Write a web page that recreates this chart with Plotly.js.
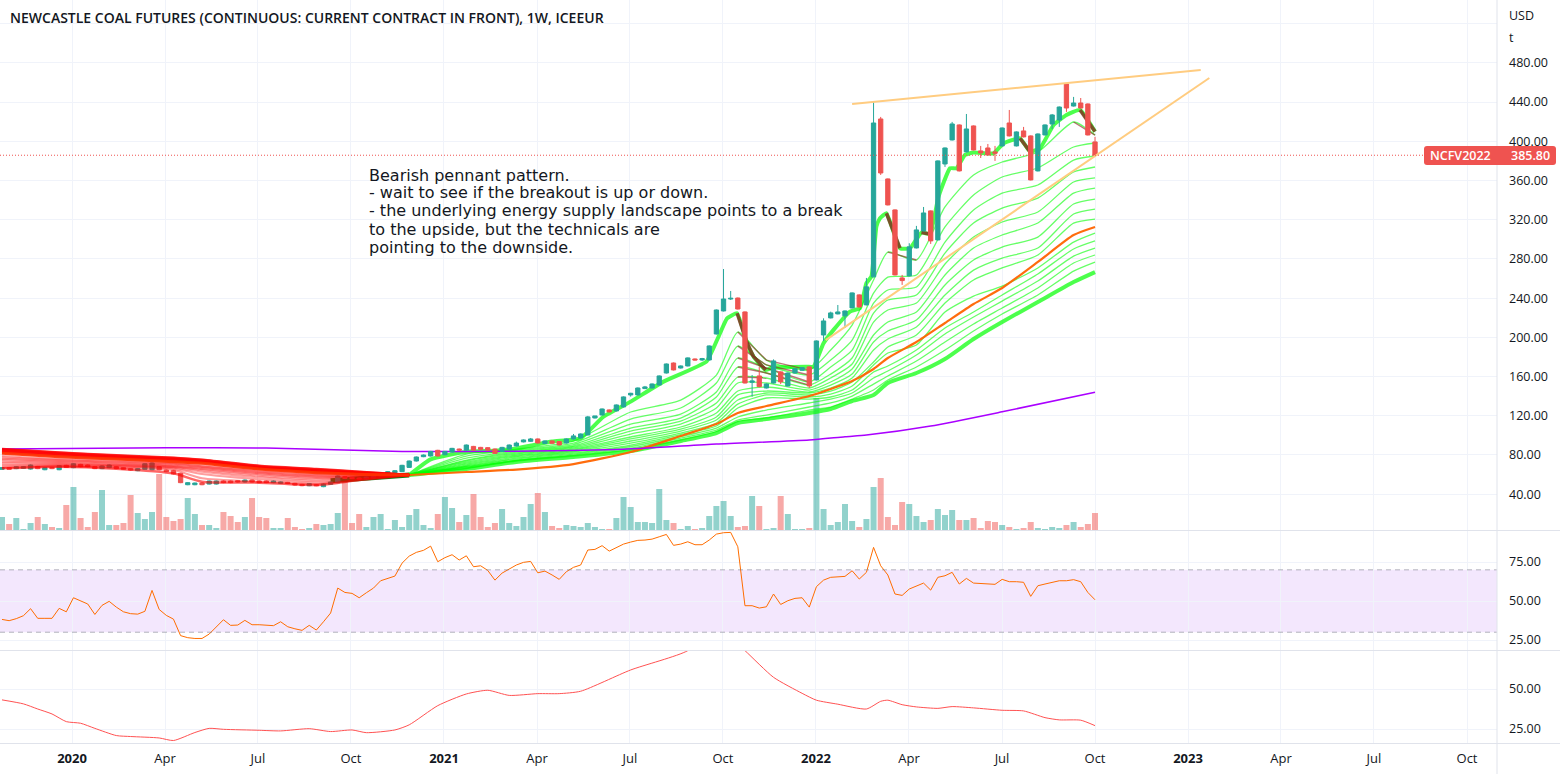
<!DOCTYPE html>
<html><head><meta charset="utf-8">
<script src="https://cdn.plot.ly/plotly-3.0.1.min.js"></script>
<style>html,body{margin:0;padding:0;background:#fff}#c{width:1560px;height:774px}</style>
</head><body><div id="c"></div>
<script>
const titleText = "NEWCASTLE COAL FUTURES (CONTINUOUS: CURRENT CONTRACT IN FRONT), 1W, ICEEUR";
const noteLines = ["Bearish pennant pattern.","- wait to see if the breakout is up or down.","- the underlying energy supply landscape points to a break","to the upside, but the technicals are","pointing to the downside."];
const lastPrice = 385.8;
const xTickVals = [9.8,22.82,35.83,48.85,61.87,74.89,87.9,100.92,113.94,126.96,139.98,153,166.02,179.03,192.05,205.07];
const xTickText = ["<b>2020</b>","Apr","Jul","Oct","<b>2021</b>","Apr","Jul","Oct","<b>2022</b>","Apr","Jul","Oct","<b>2023</b>","Apr","Jul","Oct"];
const priceTicks = [40,80,120,160,200,240,280,320,360,400,440,480,520];
const priceTickText = ["40.00","80.00","120.00","160.00","200.00","240.00","280.00","320.00","360.00","400.00","440.00","480.00",""];

const opens = [
65.3,67,66,66.3,65.6,68.3,64.9,67.3,64.9,69.4,
67,70.4,69.7,68,66,67,68,67,66,63.9,
65.3,64.9,68,64.6,63.9,61.2,49.6,49.6,51.3,50.3,
50.3,53.4,53.4,53.7,52.4,54.4,53.4,53.4,51.7,51,
52,51,50,48.6,49.6,47.6,50,51.7,57.8,57.1,
56.4,55.4,56.4,58.5,61.2,61.9,62.9,67.3,73.8,78.2,
78.9,84.7,80.2,83,86,85,88.7,87.7,87.4,86,
83.6,86,89.1,93.3,93.9,96.3,91.6,94.3,93.6,92.2,
96.3,97.3,100.4,117.7,120.8,125.9,124.9,129,141.2,141.2,
147.7,148.3,151.4,163.6,173.8,168.7,170.8,177.9,176.9,176.9,
203.4,226.9,239.1,240.1,225.9,154.1,160.6,148.3,153.4,164.7,
150.4,163.6,166.4,169.8,156.5,202.4,219.8,223.9,221.9,230,
243.3,233.1,261.7,422.8,361.6,330,260.6,262.7,291.2,308.6,
329,299.4,376.9,401.4,416.7,389.2,415.7,390.2,393.2,389.2,
395.3,418.7,395.3,410.6,405.5,369.8,406.5,417.7,421.8,458.5,
436,439.1,438.1,399.4];
const closes = [
67,65.3,68,68,69.7,66,67,66,69,67.3,
71,68,68,66,68.7,69.7,66,65.3,64.6,66,
71,71.7,64.9,62.9,60.5,51.7,51.7,51.3,49.6,53.4,
53.4,51.7,51.7,52.4,54.4,52.4,51.7,51.7,53.4,52.4,
50.7,49.3,48.6,50.7,48.6,50.3,52.4,58.5,56.1,55.8,
55.4,57.5,59.5,61.2,62.9,63.9,69.4,73.8,77.9,79.9,
83.6,78.9,83.6,86.7,85,90.1,85,85.7,85,81.6,
87.7,90.1,92.1,95.3,96.3,92.2,94.3,91.9,90.2,96.3,
99.4,101.4,118.8,119.8,126.9,123.9,131,139.2,142.9,148.3,
149.4,152.4,160.6,172.8,166.7,170.8,179,176.9,178.3,191.2,
227.9,239.1,239.8,228.9,153.4,155.5,149.7,152.4,175.9,154.5,
163.6,168,169.1,150.4,196.3,216.7,224.9,225.9,226.9,245.3,
231,251.5,418.7,367.7,335.1,263.7,257.9,292.3,309.6,326.9,
298.4,380,393.2,417.7,369.8,412.6,391.2,388.1,386.1,387.8,
413.6,405.5,409.6,404.5,360.6,407.5,416.7,426.9,435,434,
439.1,434,406.5,385.8];
const highs = [
67.5,67.5,68.5,68.5,70.2,68.8,67.5,67.8,69.5,69.9,
71.5,70.9,70.2,68.5,69.2,70.2,68.5,67.5,66.5,66.5,
71.5,72.2,68.5,65.1,64.4,61.7,52.2,51.8,51.8,53.9,
53.9,53.9,53.9,54.2,54.9,54.9,53.9,53.9,53.9,52.9,
52.5,51.5,50.5,51.2,50.1,50.8,52.9,59,58.3,57.6,
56.9,58,60,61.7,63.4,64.4,69.9,74.3,78.4,80.4,
84.1,85.2,84.1,87.2,86.5,90.6,89.2,88.2,87.9,86.5,
88.2,90.6,93.6,95.8,97.3,96.8,94.8,94.8,94.1,96.8,
101.4,101.9,119.8,119.8,127.4,126.4,131.5,139.7,143.4,148.8,
150.4,152.9,161.1,173.3,174.3,171.3,179.5,178.4,179,191.7,
228.4,269.7,247.3,240.6,226.4,161.6,170,152.9,177.5,165.2,
164.1,168.5,169.6,170.3,196.8,219.4,226.2,233,227.4,245.8,
243.8,260.6,440.2,424.9,362.1,330.5,263.7,296,313.7,333,
329.5,380.5,393.7,419.8,417.2,427.9,416.2,395.3,397.3,395.3,
414.1,432,410.1,414.7,406,408,417.2,427.9,435.5,459,
445.3,444.2,438.6,404.5];
const lows = [
64.8,64.8,65.5,65.8,65.1,65.5,64.4,65.5,64.4,66.8,
66.5,67.5,67.5,65.5,65.5,66.5,65.5,64.8,64.1,63.4,
64.8,64.4,64.4,62.4,60,51.2,49.1,49.1,49.1,49.8,
49.8,51.2,51.2,51.9,51.9,51.9,51.2,51.2,51.2,50.5,
50.2,48.8,48.1,48.1,48.1,47.1,49.5,51.2,55.6,55.3,
54.9,54.9,55.9,58,60.7,61.4,62.4,66.8,73.3,77.7,
78.4,78.4,79.7,82.5,84.5,84.5,84.5,85.2,84.5,81.1,
83.1,85.5,88.6,92.8,93.4,91.7,91.1,91.4,89.7,91.7,
95.8,96.8,99.9,117.2,120.3,123.4,124.4,128.5,139.5,140.7,
147.2,147.8,150.9,163.1,166.2,168.2,170.3,176.4,175.9,176.4,
202.9,226.4,238.1,228.4,153,139.5,149,147.8,152.9,152.4,
149.9,163.1,165.9,148.3,156,196.3,219.3,223.4,209.5,229.5,
230.5,232.6,261.2,365.7,334.6,263.2,253.5,262.2,290.7,308.1,
295.3,298.9,373.9,400.9,369.3,388.7,390.7,383,385.6,380,
394.8,405,394.8,404,360.1,369.3,406,412.6,414.7,430,
435.5,433.5,406,385.3];

const volume = [
13,6,12,1,7,13,6,3,2,25,
43,12,3,18,40,5,5,7,35,17,
11,18,56,13,9,11,32,16,5,5,
2,18,14,8,13,32,13,12,2,2,
12,3,1,2,6,5,6,17,50,7,
16,3,13,16,1,10,3,15,21,5,
2,16,33,22,8,15,36,13,3,7,
21,7,4,13,26,37,18,4,2,5,
4,3,7,3,1,1,12,33,23,8,
8,7,41,10,7,1,4,1,2,14,
24,29,14,3,4,34,24,1,2,34,
16,1,1,2,132,21,5,8,26,9,
3,11,43,52,13,5,28,26,14,8,
10,21,15,20,10,10,12,2,9,8,
5,3,1,2,8,2,1,3,2,5,
8,3,6,17];
const volumeUp = [
1,0,1,1,1,0,1,0,1,0,
1,0,0,0,1,1,0,0,0,1,
1,1,0,0,0,0,1,1,0,1,
1,0,0,0,1,0,0,0,1,1,
0,0,0,1,0,1,1,1,0,0,
0,1,1,1,1,1,1,1,1,1,
1,0,1,1,0,1,0,0,0,0,
1,1,1,1,1,0,1,0,0,1,
1,1,1,1,1,0,1,1,1,1,
1,1,1,1,0,1,1,0,1,1,
1,1,1,0,0,1,0,1,1,0,
1,1,1,0,1,1,1,1,1,1,
0,1,1,0,0,0,0,1,1,1,
0,1,1,1,0,1,0,0,0,0,
1,0,1,0,0,1,1,1,1,0,
1,0,0,0];

const rsi = [
38.2,37.4,38.7,40.6,45.1,38.9,38.9,38.9,45.3,43.1,
52.1,50.2,48.1,41.4,47.2,49.8,46.1,43.1,41.9,41.6,
43.4,56.8,44.6,40.8,38.4,27.8,26.5,26,26,28.8,
33.7,38,34.4,34.6,37.6,34.8,34.8,34.6,34.2,36.7,
33.5,32.2,31.2,34.4,31.4,36.7,42.3,58.3,55.5,54.9,
52.1,55.3,58.3,63,64.3,66,74.3,78.8,81.2,82.5,
85.2,75.2,77.8,79.7,76.3,79,72,72.6,69.6,63.4,
67.9,70.5,73.1,74.8,75.4,68.1,69.2,66.7,63.9,68.8,
71.6,73.1,82.7,83.1,85.5,82,84.4,86.5,87.8,88.9,
89.1,89.7,91.2,92.7,85.7,86.5,88,86.1,86.1,89.1,
92.9,93.8,94,84.8,47,47,45.5,46.3,54.5,47.8,
50.2,51.7,52.1,46.1,59.2,63.4,65.2,65.4,65.8,69.4,
64.1,68.4,84.4,72.6,66.7,54.5,53.6,57.7,59.6,61.5,
57,65.2,66.2,68.4,60.9,64.5,61.5,61.1,60.7,60.7,
63.9,62.4,62.4,62,53,59.8,60.9,62,63,63,
63.7,62.4,55.5,50.8];

const lowerBars = [0,3,5,7,9,11,13,16,18,22,24,27,29,31,36,39,43,46,49,51,55,57,61,65,68,71,75,78,81,88,96,100,104,108,112,114,117,121,123,124,126,128,131,133,136,140,143,146,148,151,153];
const lowerVals = [43.2,40.7,37.5,34.4,29.6,28.6,25.4,20.9,20.3,19.4,17.8,22.8,25.4,24.8,24.2,23.8,25.2,23.4,24.4,22.7,24.4,27.6,39.6,46.9,49.2,46,47.1,47.1,48.6,61.9,74,90,74,57.3,47.3,43,40.5,37.5,42.3,43,40.2,38.8,37.9,39,38.2,36.7,36.3,32.1,30.7,30.5,27.1];

const purpleBars = [0,23,37,56,72,87,100,113,118,121,130,140,153];
const purpleVals = [86,87.3,87,83.6,83.8,85.7,91.1,95.2,98.6,100.3,109.5,124,144];

// Guppy-style ribbon while rising (green phase)
const ribbonBars = [57,65,72,80,88,95,100,103,107,113,116,119,122,124,128,132,136,140,145,150,153];
const t1 = [59.5,80.9,86,94.2,123.8,136,161.5,205.4,176.8,166.6,187,212.5,258.5,287,278.9,333,365.6,378.9,389.1,419.7,406.4];
const t2 = [59.5,78.9,85,92.1,116.6,127.9,153.4,191.1,171.8,161.6,176.9,197.2,245.2,261.5,263.6,312.6,345.2,363.6,372.8,394.2,398.3];
const t3 = [59.5,76.8,84,90.6,111.5,121.7,144.2,178.9,168.7,154.4,169.7,187,235,248.3,251.3,297.2,329.9,347.2,355.4,380.9,385];
const t4 = [59.5,74.8,83,89.1,107.4,117.6,139.1,169.7,163.6,151.3,162.5,178.9,224.8,238.1,243.2,286,316.6,331.9,342.1,368.7,373.8];
const t5 = [59.5,73.8,81.9,88.1,104.4,114.6,133,159.5,158.5,148.3,158.5,172.8,215.6,227.9,235,274.8,302.3,317.7,327.9,358.5,362.6];
const t6 = [59.5,72.7,80.9,87,101.3,111.5,127.9,153.4,153.4,146.2,154.4,167.7,202.4,215.6,225.8,263.6,291.1,304.4,316.6,347.2,352.3];
const t7 = [59.5,71.7,79.9,86,98.3,108.5,122.8,145.2,149.3,144.2,151.3,162.5,195.2,206.4,217.7,253.4,278.9,292.1,302.3,336,341.1];
const t8 = [59.5,70.7,78.9,85,96.3,106.4,118.7,141.2,145.2,143.2,148.3,158.4,187,198.3,210.6,243.2,268.6,280.9,291.1,325.8,330.9];
const t9 = [59.5,69.7,77.9,84,94.2,104.4,115.7,136,143.2,141.2,145.2,154.4,174.8,190.1,202.4,235,258.5,270.8,284,316.6,320.7];
const t10 = [59.5,68.7,76.8,83,92.1,102.3,112.6,131.9,141.2,139.1,142.1,150.3,171.7,184,192.2,225.8,242.1,252.3,270.8,297.2,306.4];
const t11 = [59.5,68.2,75.8,81.9,90.1,100.8,109.5,127.9,138.1,137,139.1,146.2,164.6,170.7,187,209.5,225.8,243.2,264.6,290.1,298.3];
const t12 = [59.5,67.7,74.8,80.9,88.6,98.8,107.4,118.7,125.8,133,137,143.2,158.5,165.6,181.9,203.4,220.7,237,257.4,282.9,291.1];
const t13 = [59.5,66.6,74.3,79.9,87,97.2,105.4,115.6,120.7,128.9,133,140.1,152.3,160.5,175.8,195.2,213.6,229.9,250.3,275.8,284];
const t14 = [59.5,66.1,73.8,78.9,85.5,95.2,103.9,114.1,117.7,125.8,128.9,137,146.2,156.4,169.7,187,206.4,223.8,243.2,267.6,276.8];
const ribbonBottom = [59.5,65.6,72.8,77.9,84,94.2,102.3,112.6,116.6,122.8,126.9,135,141.1,153.4,163.6,177.9,198.3,215.7,236,256.4,266.6];
const orangeMA = [59.5,62.6,65.1,70.7,83,99.3,111.5,122.8,129.9,140.1,147.3,155.4,167.7,178.9,195.2,214.6,234,250.3,276.9,304.4,312.6];

const topBars = [57,60,65,69,72,77,81,84.2,88,92.6,98.6,100.1,101.5,102.9,104.3,105.2,106.9,108,112.7,113.6,115,116.4,118.7,120.1,121,121.7,122.4,122.9,123.8,125.7,127.1,128.7,129.9,131.1,132.7,133.6,134.8,136,138.8,140.2,142.5,143.9,145.3,147.2,149,150.9,153];
const topVals = [59.5,75.5,83.3,84.3,86.7,93.6,97,119,134.4,154.8,175.2,197.3,219.4,224.5,193.9,180.3,166.7,169.4,170.1,170.1,193.9,207.6,226.3,229.7,255.2,262,313,321.5,326.6,290.9,290.9,306.9,305.5,343.6,372.5,372.5,386.1,388.5,387.8,398,403.1,389.5,392.9,416.7,426.9,432,409.9];

// falling stretches of the ribbon, drawn dark red over the green
const fallThickBars = [102.9,104.3,105.2,106.9,null,123.8,125.7,null,128.7,129.9,null,142.5,143.9,null,150.9,153];
const fallThickVals = [224.5,193.9,180.3,166.7,null,326.6,290.9,null,306.9,305.5,null,403.1,389.5,null,432,409.9];
const fallThinBars = [103,107,113,null,103,107,113,null,103,107,113,null,103,107,113,null,103,107,null,124,128,null,150,153];
const fallThinVals = [205.4,176.8,166.6,null,191.1,171.8,161.6,null,178.9,168.7,154.4,null,169.7,163.6,151.3,null,159.5,158.5,null,287,278.9,null,419.7,406.4];

// same ribbon while falling (red phase)
const redBars = [0,8,16,24,28,36,44,50,57];
const r0 = [66.3,68,66,61.2,52.7,51.7,49.3,54.4,59.5];
const r1 = [67,68.3,67,64.6,56.1,52.7,50.3,54.4,59.5];
const r2 = [68,69,68,66,60.5,55.1,51.7,55.1,59.5];
const r3 = [69.7,69.7,68.7,67,62.9,57.1,53.4,55.8,59.5];
const r4 = [71.4,70.7,69.4,67.7,64.6,58.8,55.1,56.4,59.5];
const r5 = [73.1,71.7,70,68.3,65.6,60.2,56.4,57.1,59.5];
const r6 = [74.8,72.8,71,69,66.6,61.2,57.5,57.8,59.5];
const r7 = [76.2,73.8,72.1,70,67.7,62.2,58.5,58.5,59.5];
const r8 = [77.5,74.8,73.1,71,68.3,63.2,59.5,58.8,59.5];
const r9 = [78.9,75.8,74.1,71.7,69.4,64.3,60.5,59.5,59.5];
const r10 = [81.6,78.2,75.8,73.1,71.4,65.6,61.9,60.2,59.5];
const r11 = [82.6,79.2,76.5,74.1,72.4,66.3,62.9,60.9,59.5];
const r12 = [83.3,79.9,77.2,74.8,72.8,66.6,63.2,61.2,59.5];
const r13 = [84,80.6,77.9,75.5,73.4,67.3,63.9,61.5,59.5];
const r14 = [84.7,81.3,78.2,75.8,73.8,67.7,64.3,61.9,59.5];
const r15 = [85.3,81.9,78.9,76.5,74.5,68.3,64.9,62.2,59.5];
const r16 = [86,82.6,79.6,77.2,75.1,69,65.6,62.9,59.5];
const darkGreenBars = [46,50,57];
const darkGreenVals = [53.7,55.8,59.5];

const pennantTopBars = [119,167.8];
const pennantTopVals = [438,472.8];
const pennantLowBars = [115.3,169];
const pennantLowVals = [197.2,464.6];

const bars = opens.map((_, i) => i);
const TEAL = "#26a69a", RED = "#ef5350";
const line = (x, y, yaxis, color, width, smooth) => ({
  type: "scatter", mode: "lines", x, y, xaxis: "x", yaxis,
  line: smooth ? {color, width, shape: "spline", smoothing: smooth} : {color, width, shape: "linear"},
  hoverinfo: "skip", showlegend: false
});

const traces = [];
traces.push({type: "bar", x: bars, y: volume, xaxis: "x", yaxis: "y",
  marker: {color: volumeUp.map(u => u ? "rgba(38,166,154,0.5)" : "rgba(239,83,80,0.5)"), line: {width: 0}},
  hoverinfo: "skip", showlegend: false});

// ribbon (under the candles)
[t14,t13,t12,t11,t10,t9,t8,t7,t6,t5,t4,t3,t2,t1].forEach(s =>
  traces.push(line(ribbonBars, s, "y4", "rgba(0,255,0,0.6)", 1.3, 0.6)));
traces.push(line(darkGreenBars, darkGreenVals, "y4", "rgba(0,110,0,0.9)", 5));
traces.push(line(ribbonBars, ribbonBottom, "y4", "rgba(0,255,0,0.7)", 4, 0.6));
traces.push(line(topBars, topVals, "y4", "rgba(0,255,0,0.7)", 4, 0.4));
traces.push(line(ribbonBars, orangeMA, "y4", "rgba(255,100,0,0.95)", 2.2, 0.6));
traces.push(line(purpleBars, purpleVals, "y4", "#aa00ff", 1.5, 0.6));
traces.push(line(fallThinBars, fallThinVals, "y4", "rgba(140,30,30,0.6)", 1.4));
traces.push(line(fallThickBars, fallThickVals, "y4", "rgba(130,40,30,0.8)", 3.5));

traces.push({type: "candlestick", x: bars, open: opens, high: highs, low: lows, close: closes,
  xaxis: "x", yaxis: "y5", whiskerwidth: 0,
  increasing: {line: {color: TEAL, width: 1}, fillcolor: TEAL},
  decreasing: {line: {color: RED, width: 1}, fillcolor: RED},
  hoverinfo: "skip", showlegend: false});

// red phase over the candles
[r1,r2,r3,r4,r5,r6,r7,r8,r9].forEach(s =>
  traces.push(line(redBars, s, "y6", "rgba(255,0,0,0.38)", 2, 0.6)));
[r11,r12,r13,r14,r15].forEach(s =>
  traces.push(line(redBars, s, "y6", "rgba(255,0,0,0.55)", 3, 0.6)));
traces.push(line(redBars, r0, "y6", "rgba(255,0,0,0.6)", 2.5, 0.6));
traces.push(line(redBars, r16, "y6", "rgba(255,0,0,0.8)", 2.5, 0.6));
traces.push(line(redBars, r10, "y6", "rgba(255,50,0,0.9)", 3, 0.6));

traces.push(line(pennantTopBars, pennantTopVals, "y6", "#ffcc80", 2));
traces.push(line(pennantLowBars, pennantLowVals, "y6", "#ffcc80", 2));

traces.push(line(bars, rsi, "y2", "#ff6d00", 1));
traces.push(line(lowerBars, lowerVals, "y3", "#ff5252", 1, 0.6));

const W = 1560, H = 774, AX = 1497, GRID = "#f0f3fa", BORDER = "#e0e3eb", TXT = "#131722";
const FONT = '"Open Sans", sans-serif';
const py = p => 1 - p / H, px = p => p / W;
const priceRange = [3.4, 544.2];

const hiddenY = {overlaying: "y", domain: [py(530), 1], range: priceRange, visible: false, fixedrange: true, anchor: "x"};
const rightY = {side: "right", anchor: "x", ticks: "", showline: false, zeroline: false,
  gridcolor: GRID, gridwidth: 1, tickfont: {family: FONT, size: 12.5, color: TXT}, ticklabelstandoff: 11, fixedrange: true};

const noteY = [175, 192, 211, 229, 247];
const noteAnn = noteLines.map((text, i) => ({xref: "paper", yref: "paper", x: px(366.5), y: py(noteY[i]), xanchor: "left", yanchor: "middle",
  align: "left", showarrow: false, text, font: {family: '"DejaVu Sans", sans-serif', size: 16, color: TXT}}));

const layout = {
  width: W, height: H, margin: {l: 0, r: 0, t: 0, b: 0}, paper_bgcolor: "#fff", plot_bgcolor: "#fff",
  showlegend: false, bargap: 0.16, boxgap: 0.2, boxgroupgap: 0.25, dragmode: false, hovermode: false,
  font: {family: FONT, color: TXT},
  title: {text: titleText, x: px(10), xanchor: "left", y: py(18), yanchor: "middle", xref: "paper", yref: "paper",
    font: {family: FONT, size: 14, weight: 600, color: TXT}},
  xaxis: {domain: [0, AX / W], range: [-0.28, 209.27], anchor: "y3", type: "linear",
    tickmode: "array", tickvals: xTickVals, ticktext: xTickText, ticks: "", showline: false, zeroline: false,
    gridcolor: GRID, tickfont: {family: FONT, size: 13, color: TXT}, ticklabelstandoff: 6,
    rangeslider: {visible: false}, fixedrange: true},
  yaxis: {domain: [py(530), 1], range: [0, 530], visible: false, showgrid: false, fixedrange: true, anchor: "x"},
  yaxis4: Object.assign({}, rightY, {overlaying: "y", domain: [py(530), 1], range: priceRange,
    tickmode: "array", tickvals: priceTicks, ticktext: priceTickText}),
  yaxis5: hiddenY,
  yaxis6: hiddenY,
  yaxis2: Object.assign({}, rightY, {domain: [py(650), py(531)], range: [18.6, 94.9],
    tickmode: "array", tickvals: [25,50,75], ticktext: ["25.00","50.00","75.00"]}),
  yaxis3: Object.assign({}, rightY, {domain: [py(743), py(651)], range: [16.25, 73.75],
    tickmode: "array", tickvals: [25,50], ticktext: ["25.00","50.00"]}),
  shapes: [
    {type: "rect", layer: "below", xref: "paper", x0: 0, x1: px(AX), yref: "y2", y0: 30, y1: 70,
      fillcolor: "#f3e7fd", line: {width: 0}},
    {type: "line", xref: "paper", x0: 0, x1: px(AX), yref: "y2", y0: 70, y1: 70, line: {color: "rgba(120,123,134,0.55)", width: 1, dash: "5px,4px"}},
    {type: "line", xref: "paper", x0: 0, x1: px(AX), yref: "y2", y0: 30, y1: 30, line: {color: "rgba(120,123,134,0.55)", width: 1, dash: "5px,4px"}},
    {type: "line", xref: "paper", x0: 0, x1: px(1425), yref: "y4", y0: lastPrice, y1: lastPrice, line: {color: RED, width: 1, dash: "1px,2px"}},
    {type: "line", xref: "paper", x0: 0, x1: 1, yref: "paper", y0: py(530.5), y1: py(530.5), line: {color: BORDER, width: 1}},
    {type: "line", xref: "paper", x0: 0, x1: 1, yref: "paper", y0: py(650.5), y1: py(650.5), line: {color: BORDER, width: 1}},
    {type: "line", xref: "paper", x0: 0, x1: 1, yref: "paper", y0: py(743.5), y1: py(743.5), line: {color: BORDER, width: 1}},
    {type: "line", xref: "paper", x0: px(AX), x1: px(AX), yref: "paper", y0: 0, y1: 1, line: {color: BORDER, width: 1}},
    {type: "path", xref: "paper", yref: "paper", fillcolor: RED, line: {width: 0},
      path: `M ${px(1427)} ${py(146)} L ${px(1553)} ${py(146)} Q ${px(1556)} ${py(146)} ${px(1556)} ${py(149)} L ${px(1556)} ${py(162)} Q ${px(1556)} ${py(165)} ${px(1553)} ${py(165)} L ${px(1427)} ${py(165)} Q ${px(1424)} ${py(165)} ${px(1424)} ${py(162)} L ${px(1424)} ${py(149)} Q ${px(1424)} ${py(146)} ${px(1427)} ${py(146)} Z`}
  ],
  annotations: noteAnn.concat([
    {xref: "paper", yref: "paper", x: px(1507), y: py(16), xanchor: "left", yanchor: "middle", showarrow: false, text: "USD",
      font: {family: FONT, size: 12.5, color: TXT}},
    {xref: "paper", yref: "paper", x: px(1507), y: py(37), xanchor: "left", yanchor: "middle", showarrow: false, text: "t",
      font: {family: FONT, size: 12.5, color: TXT}},
    {xref: "paper", yref: "paper", x: px(1428), y: py(155.5), xanchor: "left", yanchor: "middle", showarrow: false, text: "NCFV2022",
      font: {family: FONT, size: 12.5, weight: 600, color: "#fff"}},
    {xref: "paper", yref: "paper", x: px(1552), y: py(155.5), xanchor: "right", yanchor: "middle", showarrow: false, text: "385.80",
      font: {family: FONT, size: 12.5, weight: 600, color: "#fff"}}
  ])
};
Plotly.newPlot("c", traces, layout, {displayModeBar: false, staticPlot: true});
</script></body></html>
